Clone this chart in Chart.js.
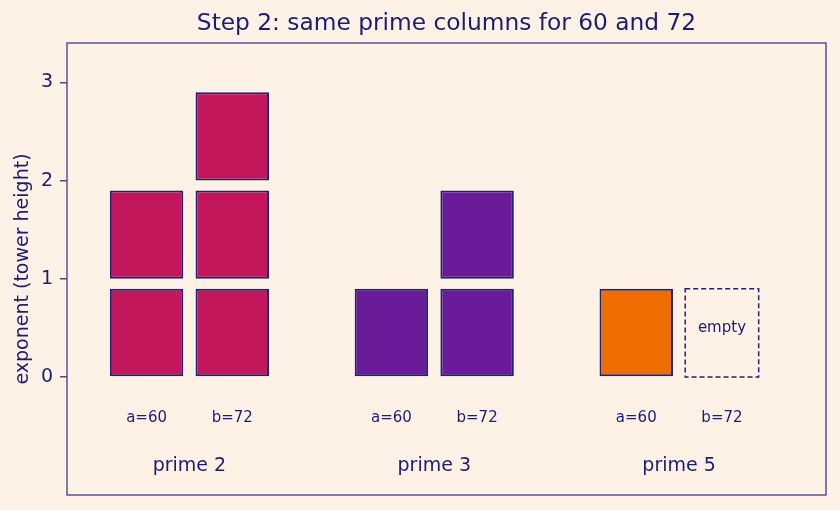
<!DOCTYPE html>
<html>
<head>
<meta charset="utf-8">
<script src="https://cdn.jsdelivr.net/npm/chart.js@4/dist/chart.umd.min.js"></script>
<style>
  html, body { margin: 0; padding: 0; background: #FEF2E7; }
  #wrap { width: 840px; height: 510px; position: relative; }
</style>
</head>
<body>
<div id="wrap"><canvas id="c" width="840" height="510"></canvas></div>
<script>
// ---- data ----
const primes = [2, 3, 5];
const groupLabels = ['prime 2', 'prime 3', 'prime 5'];
const numberLabels = ['a=60', 'b=72'];
const expA = [2, 1, 1];   // 60 = 2^2 * 3 * 5
const expB = [3, 2, 0];   // 72 = 2^3 * 3^2
const primeColors = ['#C2185B', '#6A1B9A', '#EF6C00'];
const yTicks = [0, 1, 2, 3];
const titleText = 'Step 2: same prime columns for 60 and 72';
const yTitle = 'exponent (tower height)';
const emptyText = 'empty';

// ---- styling constants ----
const INK = '#1C1C72';
const FRAME = '#4A4A8C';
const BG = '#FEF2E7';
const OFF = 0.175;       // column offset from group centre
const BLOCK = 0.9;       // block height in exponent units
const FONT = 'DejaVu Sans';

const exps = [expA, expB];
const maxLevel = Math.max(...expA, ...expB);
const datasets = [];
for (let k = 0; k < maxLevel; k++) {
  const data = [];
  primes.forEach((p, i) => {
    exps.forEach((arr, j) => {
      if (arr[i] > k) data.push({ x: i + (j === 0 ? -OFF : OFF), y: [k, k + BLOCK], p: i });
    });
  });
  datasets.push({
    data,
    backgroundColor: (c) => c.raw ? primeColors[c.raw.p] : 'transparent',
    borderColor: '#1F1F78',
    borderWidth: 2,
    borderSkipped: false,
    grouped: false,
    categoryPercentage: 1,
    barPercentage: 0.3 / (2 * OFF)
  });
}

const overlay = {
  id: 'overlay',
  beforeDraw(chart) {
    const ctx = chart.ctx;
    ctx.save();
    ctx.fillStyle = BG;
    ctx.fillRect(0, 0, chart.width, chart.height);
    ctx.restore();
  },
  afterDatasetsDraw(chart) {
    const { ctx, chartArea: a, scales: { x, y } } = chart;
    ctx.save();
    // title, centred over the plot area
    ctx.fillStyle = INK;
    ctx.font = '23.3px "' + FONT + '"';
    ctx.textAlign = 'center';
    ctx.textBaseline = 'middle';
    ctx.fillText(titleText, (a.left + a.right) / 2, 24);
    // empty (dashed) slots
    primes.forEach((p, i) => {
      exps.forEach((arr, j) => {
        if (arr[i] === 0) {
          const cx = i + (j === 0 ? -OFF : OFF);
          const x0 = x.getPixelForValue(cx - 0.15), x1 = x.getPixelForValue(cx + 0.15);
          const y0 = y.getPixelForValue(BLOCK), y1 = y.getPixelForValue(0);
          ctx.setLineDash([5, 3]);
          ctx.lineWidth = 1.5;
          ctx.strokeStyle = '#1F1F78';
          ctx.strokeRect(x0, y0, x1 - x0, y1 - y0);
          ctx.setLineDash([]);
          ctx.fillStyle = INK;
          ctx.font = '15px "' + FONT + '"';
          ctx.textAlign = 'center';
          ctx.textBaseline = 'middle';
          ctx.fillText(emptyText, x.getPixelForValue(cx), y.getPixelForValue(0.5));
        }
      });
    });
    // column and group labels
    ctx.fillStyle = INK;
    ctx.textAlign = 'center';
    ctx.textBaseline = 'middle';
    groupLabels.forEach((lab, i) => {
      ctx.font = '15px "' + FONT + '"';
      numberLabels.forEach((nl, j) => {
        ctx.fillText(nl, x.getPixelForValue(i + (j === 0 ? -OFF : OFF)), y.getPixelForValue(-0.42));
      });
      ctx.font = '19px "' + FONT + '"';
      ctx.fillText(lab, x.getPixelForValue(i), y.getPixelForValue(-0.91));
    });
    // frame
    ctx.strokeStyle = FRAME;
    ctx.lineWidth = 1.4;
    ctx.strokeRect(a.left, a.top, a.right - a.left, a.bottom - a.top);
    ctx.restore();
  }
};

new Chart(document.getElementById('c'), {
  type: 'bar',
  data: { datasets },
  plugins: [overlay],
  options: {
    responsive: false,
    animation: false,
    layout: { padding: { left: 0, right: 14, top: 43, bottom: 15 } },
    plugins: {
      legend: { display: false },
      tooltip: { enabled: false },
      title: { display: false }
    },
    scales: {
      x: {
        type: 'linear',
        display: false,
        min: -0.5,
        max: 2.6,
        offset: false,
        ticks: { stepSize: 1 }
      },
      y: {
        type: 'linear',
        min: -1.2,
        max: 3.4,
        afterBuildTicks(s) { s.ticks = yTicks.map(v => ({ value: v })); },
        ticks: {
          color: INK,
          padding: 7,
          font: { family: FONT, size: 19 },
          callback: (v) => String(v)
        },
        grid: {
          display: true,
          drawOnChartArea: false,
          drawTicks: true,
          tickLength: 7,
          color: FRAME,
          lineWidth: 1.5
        },
        border: { display: false },
        title: {
          display: true,
          text: yTitle,
          color: INK,
          font: { family: FONT, size: 19 },
          padding: { top: 12, bottom: 0 }
        },
        afterFit(s) { s.width = 67; s.paddingTop = 0; s.paddingBottom = 0; }
      }
    }
  }
});
</script>
</body>
</html>
